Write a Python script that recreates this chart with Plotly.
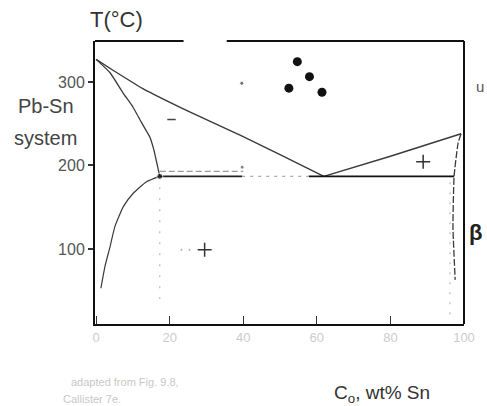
import plotly.graph_objects as go

# --- data ---
liq_left_x = [0, 4.6, 12.7, 25, 39.7, 50, 61.9]
liq_left_T = [327, 314, 292, 265, 235, 213, 187]
liq_right_x = [61.9, 80, 99.2]
liq_right_T = [187, 211, 238]
sol_left_x = [0, 3.8, 7.3, 10, 12.4, 14.6, 15.7, 16.5, 17.3]
sol_left_T = [327, 311, 287, 270, 251, 234, 218.6, 203, 187]
solv_left_x = [17.3, 13.7, 10.1, 7.4, 5.1, 3.8, 2.4, 1.3]
solv_left_T = [187, 180.6, 166.7, 150.7, 126.8, 102.9, 79, 53]
solv_right_x = [99.2, 98.4, 97.3, 97.0, 97.6]
solv_right_T = [238, 227, 187, 126, 63]
eut_solid1_x = [17.3, 39.7]
eut_solid2_x = [57.8, 97.3]
eut_faint_x = [39.7, 57.8]
eut_T = 187
eut_dash_x = [17.3, 40]
eut_dash_T = 193
atoms_x = [54.7, 58.0, 52.4, 61.4]
atoms_T = [324.3, 306.3, 292.5, 287.7]
small_dots_x = [39.6, 39.7, 17.3, 23.2, 25.4]
small_dots_T = [298.4, 198, 187, 99, 99]
cross_x = [29.5, 88.9]
cross_T = [99, 204.5]
dash_mark_x = [20.5]
dash_mark_T = [255]
vert_dot_x = [17.3, 17.3]
vert_dot_T = [187, 40]
vert_dot2_x = [96.2, 96.2]
vert_dot2_T = [180, 20]
x_ticks = [0, 20, 40, 60, 80, 100]
y_ticks = [100, 200, 300]

line_col = "#3a3a3a"
fig = go.Figure()

def add_line(x, y, color=line_col, width=1.3, dash="solid", shape="spline", smoothing=0.5):
    fig.add_trace(go.Scatter(x=x, y=y, mode="lines",
                             line=dict(color=color, width=width, dash=dash, shape=shape, smoothing=smoothing),
                             hoverinfo="skip", showlegend=False))

add_line(vert_dot_x, vert_dot_T, color="#bbbbbb", width=1.2, dash="2px,9px", shape="linear")
add_line(vert_dot2_x, vert_dot2_T, color="#bbbbbb", width=1.2, dash="2px,8px", shape="linear")
add_line(liq_left_x, liq_left_T, width=1.4, shape="spline", smoothing=0.3)
add_line(liq_right_x, liq_right_T, width=1.4, shape="linear")
add_line(sol_left_x, sol_left_T, width=1.3, shape="spline", smoothing=0.4)
add_line(solv_left_x, solv_left_T, width=1.2, shape="spline", smoothing=0.5)
add_line(solv_right_x, solv_right_T, width=1.3, dash="7px,2px", shape="spline", smoothing=0.4)
add_line(eut_solid1_x, [eut_T, eut_T], color="#222222", width=1.8, shape="linear")
add_line(eut_solid2_x, [eut_T, eut_T], color="#111111", width=1.8, shape="linear")
add_line(eut_faint_x, [eut_T, eut_T], color="#aaaaaa", width=1.2, dash="3px,5px", shape="linear")
add_line(eut_dash_x, [eut_dash_T, eut_dash_T], color="#999999", width=1.2, dash="6px,3px", shape="linear")

fig.add_trace(go.Scatter(x=atoms_x, y=atoms_T, mode="markers",
                         marker=dict(size=9, color="#111111"), hoverinfo="skip", showlegend=False))
fig.add_trace(go.Scatter(x=small_dots_x, y=small_dots_T, mode="markers",
                         marker=dict(size=[4, 4, 6, 3, 3], color=["#333", "#555", "#111", "#999", "#999"]),
                         hoverinfo="skip", showlegend=False))
fig.add_trace(go.Scatter(x=cross_x, y=cross_T, mode="markers",
                         marker=dict(size=10, symbol="cross-thin", line=dict(color="#333", width=1.5)),
                         hoverinfo="skip", showlegend=False))
fig.add_trace(go.Scatter(x=dash_mark_x, y=dash_mark_T, mode="markers",
                         marker=dict(size=6, symbol="line-ew", line=dict(color="#444", width=1.5)),
                         hoverinfo="skip", showlegend=False))

# frame pieces (top border with a gap, right border)
fig.add_shape(type="line", xref="paper", yref="paper", x0=0, x1=0.24, y0=1, y1=1,
              line=dict(color="#111", width=2))
fig.add_shape(type="line", xref="paper", yref="paper", x0=0.357, x1=1, y0=1, y1=1,
              line=dict(color="#111", width=2))
fig.add_shape(type="line", xref="paper", yref="paper", x0=1, x1=1, y0=0, y1=1,
              line=dict(color="#111", width=2))

annots = [
    dict(text="T(°C)", x=117, y=20, size=22, color="#333"),
    dict(text="Pb-Sn", x=46, y=106, size=20, color="#444"),
    dict(text="system", x=45, y=138, size=20, color="#444"),
    dict(text="C<sub>o</sub>, wt% Sn", x=384, y=394, size=19, color="#333"),
    dict(text="adapted from Fig. 9.8,", x=125, y=382, size=11, color="#c8c8c8"),
    dict(text="Callister 7e.", x=92, y=399, size=11, color="#c8c8c8"),
    dict(text="u", x=482, y=86, size=15, color="#555"),
    dict(text="<b>β</b>", x=478, y=232, size=22, color="#222"),
]
for a in annots:
    fig.add_annotation(text=a["text"], xref="paper", yref="paper",
                       x=(a["x"] - 95) / 371, y=1 - (a["y"] - 41) / 283,
                       showarrow=False, font=dict(size=a["size"], color=a["color"],
                                                  family="Liberation Sans, Arial, sans-serif"),
                       xanchor="center", yanchor="middle")

fig.update_layout(
    width=487, height=406,
    margin=dict(l=95, r=21, t=41, b=82),
    paper_bgcolor="white", plot_bgcolor="white",
    font=dict(family="Liberation Sans, Arial, sans-serif"),
    xaxis=dict(range=[-0.3, 100], tickvals=x_ticks, ticktext=[str(v) for v in x_ticks],
               showgrid=False, zeroline=False, showline=True, linecolor="#111", linewidth=2,
               ticks="inside", ticklen=8, tickcolor="#333", tickwidth=1.2,
               tickfont=dict(size=13, color="#cccccc")),
    yaxis=dict(range=[10.2, 349], tickvals=y_ticks, ticktext=[str(v) for v in y_ticks],
               showgrid=False, zeroline=False, showline=True, linecolor="#111", linewidth=2,
               ticks="outside", ticklen=5, tickcolor="#333", tickwidth=1.5,
               tickfont=dict(size=16, color="#555")),
)

fig.write_html("out.html")
